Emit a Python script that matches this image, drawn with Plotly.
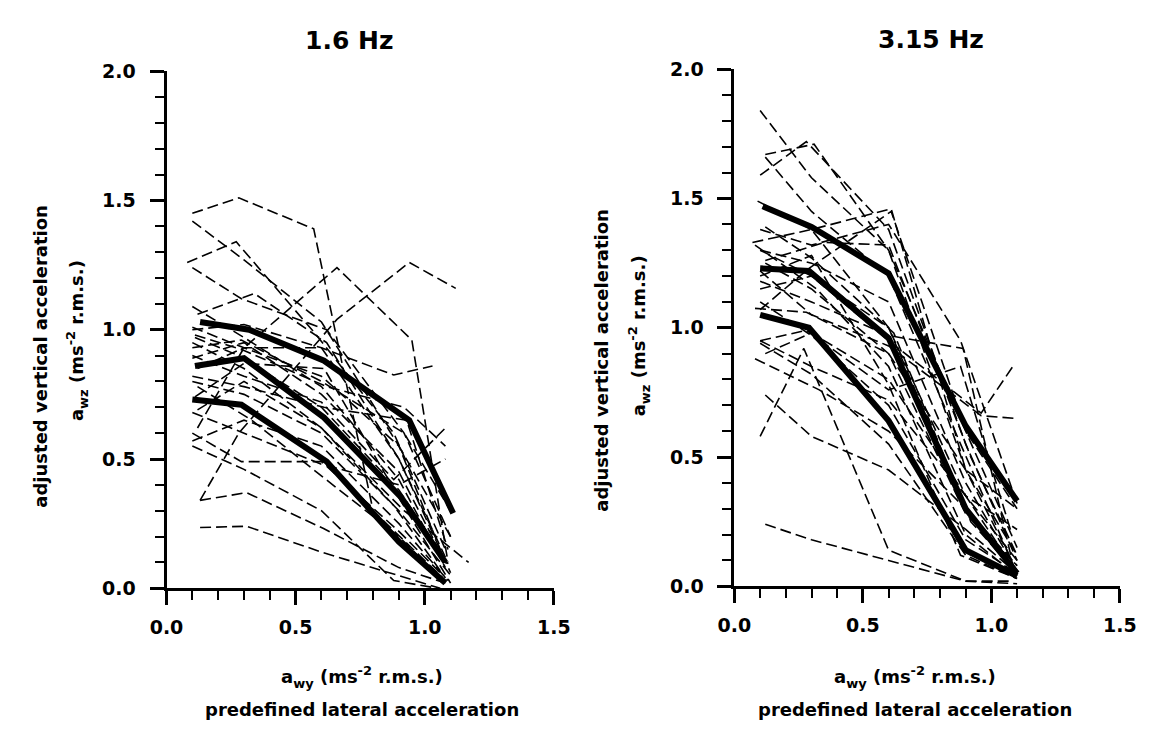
import plotly.graph_objects as go

# ---------------- data ----------------
# 1.6 Hz panel: individual subjects (dashed)
left_dashed_x = [
    [0.10, 0.28, 0.57, 0.80, 1.07],
    [0.10, 0.30, 0.60, 0.90, 1.08],
    [0.08, 0.27, 0.58, 0.88, 1.08],
    [0.10, 0.29, 0.62, 0.92, 1.10],
    [0.10, 0.30, 0.60, 0.90, 1.08],
    [0.12, 0.34, 0.62, 0.90, 1.08],
    [0.12, 0.30, 0.66, 0.95, 1.09],
    [0.13, 0.28, 0.66, 0.94, 1.12],
    [0.10, 0.29, 0.60, 0.90, 1.07],
    [0.13, 0.31, 0.61, 0.90, 1.08],
    [0.13, 0.31, 0.60, 0.90, 1.06],
    [0.10, 0.30, 0.60, 0.92, 1.17],
    [0.10, 0.30, 0.60, 0.88, 1.08],
    [0.11, 0.30, 0.62, 0.92, 1.08],
    [0.10, 0.30, 0.60, 0.88, 1.03],
    [0.10, 0.30, 0.60, 0.90, 1.10],
    [0.11, 0.28, 0.60, 0.90, 1.10],
    [0.10, 0.30, 0.60, 0.90, 1.08],
    [0.10, 0.30, 0.60, 0.90, 1.10],
    [0.12, 0.30, 0.60, 0.88, 1.08],
    [0.10, 0.30, 0.60, 0.90, 1.09],
    [0.12, 0.33, 0.58, 0.90, 1.08],
    [0.10, 0.29, 0.60, 0.92, 1.10],
    [0.11, 0.30, 0.61, 0.90, 1.10],
    [0.10, 0.30, 0.61, 0.93, 1.09],
    [0.10, 0.30, 0.60, 0.90, 1.08],
    [0.10, 0.30, 0.60, 0.88, 1.05],
    [0.12, 0.30, 0.60, 0.90, 1.10],
]
left_dashed_y = [
    [1.45, 1.51, 1.39, 0.30, 0.04],
    [1.42, 1.27, 1.03, 0.55, 0.10],
    [1.26, 1.34, 0.98, 0.60, 0.15],
    [1.24, 1.12, 1.00, 0.60, 0.20],
    [1.09, 0.97, 0.78, 0.42, 0.08],
    [1.06, 1.14, 0.95, 0.50, 0.12],
    [0.62, 0.93, 1.24, 0.96, 0.10],
    [0.34, 0.60, 1.04, 1.26, 1.16],
    [0.60, 0.49, 0.49, 0.22, 0.05],
    [0.34, 0.37, 0.23, 0.08, 0.02],
    [0.235, 0.24, 0.14, 0.05, 0.00],
    [0.95, 0.85, 0.62, 0.30, 0.10],
    [0.90, 0.82, 0.72, 0.42, 0.62],
    [0.98, 0.92, 0.78, 0.70, 0.55],
    [1.00, 1.02, 0.93, 0.825, 0.86],
    [1.01, 0.93, 0.82, 0.55, 0.20],
    [0.97, 0.90, 0.70, 0.38, 0.08],
    [0.89, 0.95, 0.75, 0.45, 0.10],
    [0.80, 0.75, 0.60, 0.30, 0.05],
    [0.69, 0.80, 0.62, 0.32, 0.04],
    [0.57, 0.65, 0.55, 0.25, 0.03],
    [0.78, 0.65, 0.45, 0.20, 0.02],
    [0.93, 0.96, 0.80, 0.60, 0.30],
    [0.74, 0.87, 0.85, 0.35, 0.02],
    [0.82, 0.78, 0.70, 0.65, 0.15],
    [0.68, 0.60, 0.48, 0.40, 0.50],
    [0.55, 0.46, 0.30, 0.03, 0.00],
    [0.85, 0.93, 0.93, 0.50, 0.06],
]
# 1.6 Hz panel: summary curves (thick)
left_thick_x = [
    [0.13, 0.32, 0.61, 0.94, 1.11],
    [0.11, 0.30, 0.61, 0.91, 1.08],
    [0.10, 0.29, 0.62, 0.90, 1.08],
]
left_thick_y = [
    [1.03, 1.00, 0.88, 0.65, 0.29],
    [0.86, 0.89, 0.66, 0.35, 0.10],
    [0.73, 0.71, 0.49, 0.18, 0.02],
]

# 3.15 Hz panel: individual subjects (dashed)
right_dashed_x = [
    [0.10, 0.30, 0.60, 0.90, 1.08],
    [0.10, 0.28, 0.60, 0.90, 1.10],
    [0.12, 0.31, 0.60, 0.90, 1.10],
    [0.12, 0.30, 0.60, 0.88, 1.10],
    [0.07, 0.30, 0.61, 0.90, 1.10],
    [0.12, 0.35, 0.60, 0.92, 1.10],
    [0.10, 0.29, 0.61, 0.90, 1.10],
    [0.10, 0.30, 0.60, 0.89, 1.08],
    [0.10, 0.28, 0.60, 0.88, 1.08],
    [0.08, 0.33, 0.60, 0.90, 1.10],
    [0.12, 0.30, 0.60, 0.90, 1.10],
    [0.10, 0.27, 0.60, 0.90, 1.08],
    [0.12, 0.30, 0.60, 0.90, 1.10],
    [0.10, 0.30, 0.60, 0.96, 1.09],
    [0.10, 0.30, 0.60, 0.96, 1.09],
    [0.09, 0.30, 0.60, 0.90, 1.10],
    [0.12, 0.30, 0.62, 0.92, 1.10],
    [0.10, 0.30, 0.60, 0.90, 1.10],
    [0.08, 0.32, 0.60, 0.90, 1.10],
    [0.12, 0.30, 0.60, 0.90, 1.10],
    [0.10, 0.30, 0.60, 0.88, 1.10],
    [0.10, 0.30, 0.60, 0.90, 1.10],
    [0.10, 0.30, 0.60, 0.90, 1.10],
    [0.10, 0.30, 0.60, 0.90, 1.10],
    [0.10, 0.30, 0.60, 0.88, 1.10],
    [0.10, 0.30, 0.60, 0.90, 1.08],
    [0.08, 0.28, 0.60, 0.90, 1.10],
    [0.12, 0.30, 0.60, 0.90, 1.10],
]
right_dashed_y = [
    [1.84, 1.58, 1.30, 0.45, 0.10],
    [1.59, 1.72, 1.38, 0.55, 0.10],
    [1.67, 1.71, 1.30, 0.60, 0.15],
    [1.66, 1.45, 1.20, 0.55, 0.05],
    [1.33, 1.38, 1.46, 0.45, 0.30],
    [1.26, 1.33, 1.32, 0.50, 0.12],
    [1.07, 1.23, 1.45, 0.60, 0.30],
    [1.18, 1.10, 0.97, 0.92, 0.10],
    [0.95, 0.99, 0.76, 0.85, 0.20],
    [0.88, 0.76, 0.60, 0.30, 0.08],
    [0.74, 0.58, 0.45, 0.22, 0.05],
    [0.58, 0.92, 0.14, 0.02, 0.02],
    [0.24, 0.18, 0.10, 0.02, 0.01],
    [1.30, 1.20, 0.95, 0.67, 0.86],
    [1.22, 1.05, 0.93, 0.66, 0.65],
    [1.49, 1.38, 1.00, 0.35, 0.05],
    [1.39, 1.27, 0.98, 0.25, 0.05],
    [1.30, 1.25, 1.10, 0.40, 0.06],
    [1.32, 1.15, 0.85, 0.20, 0.04],
    [1.25, 1.15, 0.90, 0.28, 0.08],
    [1.20, 1.28, 0.78, 0.12, 0.03],
    [1.10, 0.97, 0.70, 0.18, 0.05],
    [0.95, 0.85, 0.72, 0.35, 0.22],
    [0.94, 0.82, 0.55, 0.12, 0.03],
    [1.38, 1.32, 1.40, 0.95, 0.32],
    [1.15, 1.20, 1.00, 0.30, 0.08],
    [1.075, 1.06, 0.90, 0.45, 0.12],
    [0.90, 0.98, 0.80, 0.35, 0.10],
]
# 3.15 Hz panel: summary curves (thick)
right_thick_x = [
    [0.11, 0.30, 0.60, 0.90, 1.10],
    [0.10, 0.29, 0.60, 0.90, 1.10],
    [0.10, 0.29, 0.60, 0.90, 1.10],
]
right_thick_y = [
    [1.47, 1.39, 1.21, 0.62, 0.33],
    [1.23, 1.22, 0.96, 0.30, 0.05],
    [1.05, 1.00, 0.64, 0.14, 0.04],
]

panel_titles = ["1.6 Hz", "3.15 Hz"]
x_ticks = [0.0, 0.5, 1.0, 1.5]
y_ticks = [0.0, 0.5, 1.0, 1.5, 2.0]

SUB = '<span style="font-size:13px;baseline-shift:-5px">{}</span>'
SUP = '<span style="font-size:13px;baseline-shift:8px">{}</span>'
x_title_1 = "a" + SUB.format("wy") + " (ms" + SUP.format("-2") + " r.m.s.)"
x_title_2 = "predefined lateral acceleration"
y_title_1 = "adjusted vertical acceleration"
y_title_2 = "a" + SUB.format("wz") + " (ms" + SUP.format("-2") + " r.m.s.)"

# ---------------- figure ----------------
W, H = 1166, 739
FONT = "DejaVu Sans"

fig = go.Figure()

def add_panel(xs_d, ys_d, xs_t, ys_t, xa, ya):
    for xs, ys in zip(xs_d, ys_d):
        fig.add_trace(go.Scatter(x=xs, y=ys, mode="lines", xaxis=xa, yaxis=ya,
                                 line=dict(color="black", width=1.6, dash="11px,5px"),
                                 showlegend=False, hoverinfo="skip"))
    for xs, ys in zip(xs_t, ys_t):
        fig.add_trace(go.Scatter(x=xs, y=ys, mode="lines", xaxis=xa, yaxis=ya,
                                 line=dict(color="black", width=6),
                                 showlegend=False, hoverinfo="skip"))

add_panel(left_dashed_x, left_dashed_y, left_thick_x, left_thick_y, "x", "y")
add_panel(right_dashed_x, right_dashed_y, right_thick_x, right_thick_y, "x2", "y2")

tickfont = dict(family=FONT, size=19, color="black", weight="bold")

def xaxis_style(x0, x1, anchor):
    return dict(domain=[x0 / W, x1 / W], range=[0, 1.5], anchor=anchor,
                showline=True, linecolor="black", linewidth=3,
                showgrid=False, zeroline=False,
                ticks="outside", ticklen=14, tickwidth=3, tickcolor="black",
                tickvals=x_ticks, tickformat=".1f", tickfont=tickfont,
                ticklabelstandoff=6,
                minor=dict(dtick=0.1, ticks="outside", ticklen=9, tickwidth=2,
                           tickcolor="black", showgrid=False))

def yaxis_style(y0px, y1px, anchor):
    return dict(domain=[1 - y0px / H, 1 - y1px / H], range=[0, 2.0], anchor=anchor,
                showline=True, linecolor="black", linewidth=3,
                showgrid=False, zeroline=False,
                ticks="outside", ticklen=14, tickwidth=3, tickcolor="black",
                tickvals=y_ticks, tickformat=".1f", tickfont=tickfont,
                ticklabelstandoff=10,
                minor=dict(dtick=0.1, ticks="outside", ticklen=9, tickwidth=2,
                           tickcolor="black", showgrid=False))

fig.update_layout(
    width=W, height=H,
    margin=dict(l=0, r=0, t=0, b=0),
    paper_bgcolor="white", plot_bgcolor="white",
    xaxis=xaxis_style(154, 553, "y"),
    yaxis=yaxis_style(595, 62, "x"),
    xaxis2=xaxis_style(739, 1136, "y2"),
    yaxis2=yaxis_style(593, 60, "x2"),
)

def ann(text, xpx, ypx, size, angle=0):
    fig.add_annotation(text=text, x=xpx / W, y=1 - ypx / H, xref="paper", yref="paper",
                       showarrow=False, textangle=angle, xanchor="center", yanchor="middle",
                       font=dict(family=FONT, size=size, color="black", weight="bold"))

ann(panel_titles[0], 342, 30, 25)
ann(panel_titles[1], 941, 29, 25)

ann(y_title_1, 24, 356, 18, -90)
ann(y_title_2, 62, 340, 18, -90)
ann(y_title_1, 602, 360, 18, -90)
ann(y_title_2, 641, 335, 18, -90)

ann(x_title_1, 355, 686, 18)
ann(x_title_2, 355, 720, 18)
ann(x_title_1, 925, 686, 18)
ann(x_title_2, 925, 720, 18)

fig.write_html(
    "out.html",
    config={"displayModeBar": False, "staticPlot": True},
    post_script="document.body.style.margin='0px';"
                "document.documentElement.style.overflow='hidden';",
)
